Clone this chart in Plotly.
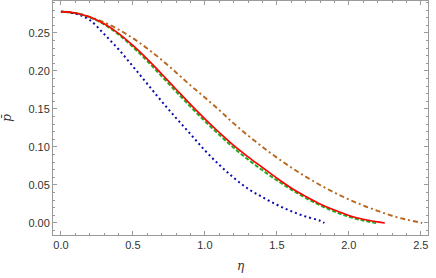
import plotly.graph_objects as go

eta_blue = [0, 0.1, 0.2, 0.3, 0.4, 0.5, 0.6, 0.7, 0.8, 0.9, 1.0, 1.1, 1.2, 1.3, 1.4, 1.5, 1.6, 1.7, 1.8, 1.83]
p_blue = [0.278, 0.2755, 0.267, 0.2485, 0.2285, 0.206, 0.183, 0.160, 0.138, 0.117, 0.0955, 0.0765, 0.0595, 0.045, 0.034, 0.024, 0.0155, 0.0085, 0.003, 0.0]

eta_red = [0, 0.1, 0.2, 0.3, 0.4, 0.5, 0.6, 0.7, 0.8, 0.9, 1.0, 1.1, 1.2, 1.3, 1.4, 1.5, 1.6, 1.7, 1.8, 1.9, 2.0, 2.1, 2.2, 2.25]
p_red = [0.278, 0.2763, 0.271, 0.262, 0.2495, 0.2335, 0.2155, 0.196, 0.176, 0.156, 0.137, 0.119, 0.102, 0.087, 0.073, 0.059, 0.046, 0.035, 0.025, 0.017, 0.010, 0.005, 0.0015, 0.0]

eta_green = [0, 0.1, 0.2, 0.3, 0.4, 0.5, 0.6, 0.7, 0.8, 0.9, 1.0, 1.1, 1.2, 1.3, 1.4, 1.5, 1.6, 1.7, 1.8, 1.9, 2.0, 2.1, 2.19]
p_green = [0.278, 0.2762, 0.2706, 0.2612, 0.248, 0.2315, 0.213, 0.193, 0.1728, 0.153, 0.134, 0.116, 0.099, 0.0835, 0.0693, 0.0562, 0.044, 0.033, 0.0233, 0.015, 0.0083, 0.0033, 0.0]

eta_orange = [0, 0.1, 0.2, 0.3, 0.4, 0.5, 0.6, 0.7, 0.8, 0.9, 1.0, 1.1, 1.2, 1.3, 1.4, 1.5, 1.6, 1.7, 1.8, 1.9, 2.0, 2.1, 2.2, 2.3, 2.4, 2.5, 2.51]
p_orange = [0.278, 0.2762, 0.2712, 0.264, 0.2545, 0.243, 0.2295, 0.2145, 0.198, 0.181, 0.165, 0.1485, 0.131, 0.115, 0.100, 0.086, 0.073, 0.061, 0.050, 0.040, 0.031, 0.023, 0.016, 0.0095, 0.0045, 0.0005, 0.0]

x_ticks = [0.0, 0.5, 1.0, 1.5, 2.0, 2.5]
x_ticklabels = ["0.0", "0.5", "1.0", "1.5", "2.0", "2.5"]
y_ticks = [0.00, 0.05, 0.10, 0.15, 0.20, 0.25]
y_ticklabels = ["0.00", "0.05", "0.10", "0.15", "0.20", "0.25"]

fig = go.Figure()
fig.add_trace(go.Scatter(x=eta_orange, y=p_orange, mode="lines",
                         line=dict(color="#b8661c", width=1.9, dash="5px,3px,2px,3px", shape="spline")))
fig.add_trace(go.Scatter(x=eta_blue, y=p_blue, mode="lines",
                         line=dict(color="#0a0ab0", width=2, dash="2px,3px", shape="spline")))
fig.add_trace(go.Scatter(x=eta_green, y=p_green, mode="lines",
                         line=dict(color="#22aa22", width=2, dash="4px,2px", shape="spline")))
fig.add_trace(go.Scatter(x=eta_red, y=p_red, mode="lines",
                         line=dict(color="#ff0000", width=1.6, shape="spline")))

axis_common = dict(
    showline=True, linecolor="#9a9a9a", linewidth=1, mirror="allticks",
    ticks="inside", tickcolor="#9a9a9a", ticklen=4, tickwidth=1,
    showgrid=False, zeroline=False, ticklabeloverflow="allow",
    tickfont=dict(family="Liberation Sans", size=11, color="#333333"),
)

fig.update_xaxes(range=[-0.055, 2.55], tickvals=x_ticks, ticktext=x_ticklabels,
                 minor=dict(ticks="inside", dtick=0.1, tick0=0, ticklen=2, tickcolor="#9a9a9a"),
                 title=dict(text="<i>η</i>", font=dict(family="DejaVu Serif", size=12, color="#333333"), standoff=11),
                 **axis_common)
fig.update_yaxes(range=[-0.0158, 0.292], tickvals=y_ticks, ticktext=y_ticklabels,
                 minor=dict(ticks="inside", dtick=0.01, tick0=0, ticklen=2, tickcolor="#9a9a9a"),
                 title=dict(text="<i>p̄</i>", font=dict(family="DejaVu Serif", size=12, color="#333333"), standoff=18),
                 **axis_common)

fig.update_layout(
    width=436, height=278,
    margin=dict(l=53, r=8, t=1, b=43, autoexpand=False),
    plot_bgcolor="white", paper_bgcolor="white",
    showlegend=False,
)

fig.write_html("out.html", config={"displayModeBar": False},
               post_script="document.body.style.margin='0';document.body.style.padding='0';")
